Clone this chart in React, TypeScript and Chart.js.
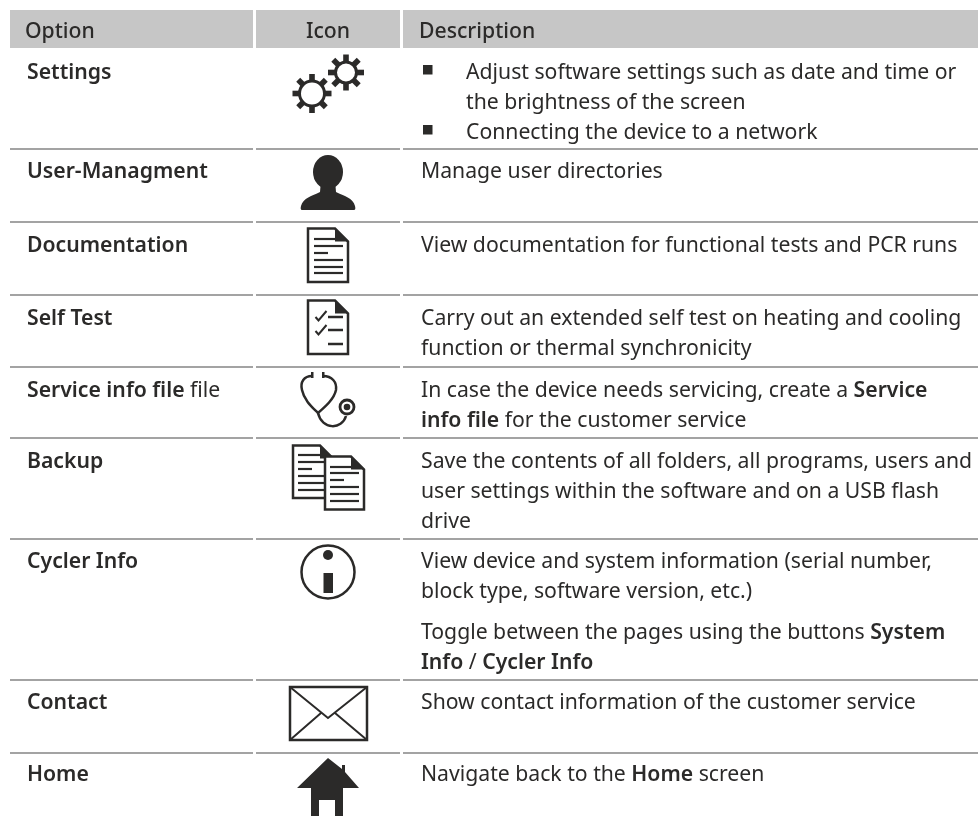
import React, { useEffect, useRef } from "react";
import { Chart, registerables } from "chart.js";

Chart.register(...registerables);

const headers = ["Option", "Icon", "Description"];
const options = [
  "**Settings**",
  "**User-Managment**",
  "**Documentation**",
  "**Self Test**",
  "**Service info file** file",
  "**Backup**",
  "**Cycler Info**",
  "**Contact**",
  "**Home**",
];
const icons = ["gears", "user", "doc", "check", "steth", "copy", "info", "mail", "home"];
const descriptions = [
  ["Adjust software settings such as date and time or", "the brightness of the screen", "Connecting the device to a network"],
  ["Manage user directories"],
  ["View documentation for functional tests and PCR runs"],
  ["Carry out an extended self test on heating and cooling", "function or thermal synchronicity"],
  ["In case the device needs servicing, create a **Service**", "**info file** for the customer service"],
  ["Save the contents of all folders, all programs, users and", "user settings within the software and on a USB flash", "drive"],
  ["View device and system information (serial number,", "block type, software version, etc.)", "", "Toggle between the pages using the buttons **System**", "**Info** / **Cycler Info**"],
  ["Show contact information of the customer service"],
  ["Navigate back to the **Home** screen"],
];
const rowRules = [149, 222, 295, 367, 438, 539, 680, 753];
const rowBaselines = [79, 178, 252, 325, 397, 468, 568, 709, 781];
const columnEdges = [[10, 253], [256, 400], [403, 978]];

const INK = "#2b2a29";
const FONT = '"Noto Sans"';
const SIZE = 21.2;

function drawRich(ctx: CanvasRenderingContext2D, s: string, x: number, y: number) {
  let cx = x;
  s.split("**").forEach((part, i) => {
    ctx.font = `${i % 2 ? 600 : 400} ${SIZE}px ${FONT}`;
    ctx.fillText(part, cx, y);
    cx += ctx.measureText(part).width;
  });
}

function gear(ctx: CanvasRenderingContext2D, cx: number, cy: number, r: number, tooth: number) {
  ctx.lineWidth = 3;
  ctx.beginPath();
  ctx.arc(cx, cy, r, 0, Math.PI * 2);
  ctx.stroke();
  for (let i = 0; i < 8; i++) {
    ctx.save();
    ctx.translate(cx, cy);
    ctx.rotate((i * Math.PI) / 4);
    ctx.fillRect(-2.8, -tooth, 5.6, tooth - r);
    ctx.restore();
  }
}

function docShape(ctx: CanvasRenderingContext2D, x0: number, y0: number, x1: number, y1: number, fold: number, lw: number) {
  ctx.lineWidth = lw;
  ctx.lineJoin = "miter";
  ctx.beginPath();
  ctx.moveTo(x0, y0);
  ctx.lineTo(x1 - fold, y0);
  ctx.lineTo(x1, y0 + fold);
  ctx.lineTo(x1, y1);
  ctx.lineTo(x0, y1);
  ctx.closePath();
  ctx.fillStyle = "#fff";
  ctx.fill();
  ctx.stroke();
  ctx.fillStyle = INK;
  ctx.beginPath();
  ctx.moveTo(x1 - fold, y0);
  ctx.lineTo(x1, y0 + fold);
  ctx.lineTo(x1 - fold, y0 + fold);
  ctx.closePath();
  ctx.fill();
}

function hline(ctx: CanvasRenderingContext2D, x0: number, x1: number, y: number, lw = 2.2) {
  ctx.lineWidth = lw;
  ctx.beginPath();
  ctx.moveTo(x0, y);
  ctx.lineTo(x1, y);
  ctx.stroke();
}

function drawIcon(ctx: CanvasRenderingContext2D, kind: string) {
  ctx.save();
  ctx.strokeStyle = INK;
  ctx.fillStyle = INK;
  ctx.lineCap = "butt";
  if (kind === "gears") {
    gear(ctx, 312, 93.5, 12.5, 19.5);
    gear(ctx, 346, 72.5, 10.5, 18);
  } else if (kind === "user") {
    ctx.beginPath();
    ctx.ellipse(328, 172, 15, 17, 0, 0, Math.PI * 2);
    ctx.fill();
    ctx.beginPath();
    ctx.moveTo(302, 210);
    ctx.quadraticCurveTo(300, 210, 301, 206);
    ctx.bezierCurveTo(303, 198, 312, 196, 320, 192);
    ctx.lineTo(321, 180);
    ctx.lineTo(335, 180);
    ctx.lineTo(336, 192);
    ctx.bezierCurveTo(344, 196, 353, 198, 355, 206);
    ctx.quadraticCurveTo(356, 210, 354, 210);
    ctx.closePath();
    ctx.fill();
  } else if (kind === "doc") {
    docShape(ctx, 308, 228.5, 348, 282, 13, 2.5);
    [[314, 335, 239], [314, 343, 246], [314, 328, 253], [314, 343, 260], [314, 343, 267], [314, 343, 273]].forEach(([a, b, y]) => hline(ctx, a, b, y));
  } else if (kind === "check") {
    docShape(ctx, 308, 300.5, 348, 354, 13, 2.5);
    ctx.lineWidth = 2;
    [311, 325].forEach((y0) => {
      ctx.beginPath();
      ctx.moveTo(315.5, y0 + 6);
      ctx.lineTo(318.5, y0 + 9.5);
      ctx.lineTo(326.5, y0);
      ctx.stroke();
    });
    [317, 330, 344].forEach((y) => hline(ctx, 328, 343, y, 2.5));
  } else if (kind === "steth") {
    ctx.lineWidth = 2.5;
    ctx.beginPath();
    ctx.moveTo(312, 376);
    ctx.bezierCurveTo(304, 376, 300, 382, 302, 390);
    ctx.bezierCurveTo(304, 400, 312, 407, 318, 413);
    ctx.bezierCurveTo(326, 406, 334, 399, 336, 390);
    ctx.bezierCurveTo(337, 382, 332, 376, 323, 376);
    ctx.stroke();
    ctx.beginPath();
    ctx.moveTo(318, 413);
    ctx.bezierCurveTo(322, 430, 342, 430, 346, 416);
    ctx.stroke();
    ctx.lineWidth = 2.8;
    ctx.beginPath();
    ctx.arc(347, 407, 7, 0, Math.PI * 2);
    ctx.stroke();
    ctx.beginPath();
    ctx.arc(347, 407, 3.3, 0, Math.PI * 2);
    ctx.fill();
    ctx.fillRect(311, 372, 2.5, 6);
    ctx.fillRect(322, 372, 2.5, 6);
  } else if (kind === "copy") {
    docShape(ctx, 293, 445.5, 333, 498, 13, 2.5);
    [[298, 320, 455], [298, 328, 462], [298, 312, 469], [298, 328, 476], [298, 328, 483], [298, 328, 490]].forEach(([a, b, y]) => hline(ctx, a, b, y));
    docShape(ctx, 325, 456.5, 364, 509.5, 13, 2.5);
    [[330, 351, 467], [330, 359, 473], [330, 344, 480], [330, 359, 487], [330, 359, 494], [330, 359, 501]].forEach(([a, b, y]) => hline(ctx, a, b, y));
  } else if (kind === "info") {
    ctx.lineWidth = 2.5;
    ctx.beginPath();
    ctx.arc(328, 572, 26.5, 0, Math.PI * 2);
    ctx.stroke();
    ctx.beginPath();
    ctx.arc(328, 555, 5, 0, Math.PI * 2);
    ctx.fill();
    ctx.fillRect(323.5, 573, 9.5, 20);
  } else if (kind === "mail") {
    ctx.lineWidth = 2.5;
    ctx.strokeRect(290, 687, 77, 53);
    ctx.lineWidth = 2;
    ctx.beginPath();
    ctx.moveTo(290, 687);
    ctx.lineTo(328, 718);
    ctx.lineTo(367, 687);
    ctx.moveTo(290, 740);
    ctx.lineTo(321, 713);
    ctx.moveTo(367, 740);
    ctx.lineTo(335, 713);
    ctx.stroke();
  } else if (kind === "home") {
    ctx.beginPath();
    ctx.moveTo(328, 758);
    ctx.lineTo(342, 769);
    ctx.lineTo(342, 765);
    ctx.lineTo(345, 765);
    ctx.lineTo(345, 772);
    ctx.lineTo(359, 788);
    ctx.lineTo(343, 788);
    ctx.lineTo(343, 816);
    ctx.lineTo(335, 816);
    ctx.lineTo(335, 800);
    ctx.lineTo(319, 800);
    ctx.lineTo(319, 816);
    ctx.lineTo(311, 816);
    ctx.lineTo(311, 788);
    ctx.lineTo(297, 788);
    ctx.closePath();
    ctx.fill();
  }
  ctx.restore();
}

const tablePlugin = {
  id: "table",
  beforeDatasetsDraw(chart: any) {
    const { ctx, scales } = chart;
    const { x, y } = scales;
    ctx.save();
    ctx.fillStyle = "#c6c6c6";
    columnEdges.forEach(([a, b]) => {
      ctx.fillRect(x.getPixelForValue(a), y.getPixelForValue(10), x.getPixelForValue(b) - x.getPixelForValue(a), y.getPixelForValue(48) - y.getPixelForValue(10));
    });
    ctx.restore();
  },
  afterDatasetsDraw(chart: any) {
    const { ctx, scales } = chart;
    const { x, y } = scales;
    ctx.save();
    ctx.fillStyle = INK;
    ctx.textBaseline = "alphabetic";
    ctx.font = `500 ${SIZE}px ${FONT}`;
    ctx.fillText(headers[0], x.getPixelForValue(25), y.getPixelForValue(37.5));
    ctx.textAlign = "center";
    ctx.fillText(headers[1], x.getPixelForValue(328), y.getPixelForValue(37.5));
    ctx.textAlign = "left";
    ctx.fillText(headers[2], x.getPixelForValue(419), y.getPixelForValue(37.5));
    options.forEach((opt, i) => {
      const base = rowBaselines[i];
      drawRich(ctx, opt, x.getPixelForValue(27), y.getPixelForValue(base));
      const lines = descriptions[i];
      const bulleted = i === 0;
      lines.forEach((line, j) => {
        let ly = base + j * 30;
        if (i === 6 && j >= 3) ly = base + 71 + (j - 3) * 30;
        if (!line) return;
        const lx = bulleted ? 466 : 421;
        drawRich(ctx, line, x.getPixelForValue(lx), y.getPixelForValue(ly));
      });
      drawIcon(ctx, icons[i]);
    });
    [65, 125].forEach((b) => ctx.fillRect(423, b, 9.5, 9.5));
    ctx.restore();
  },
};

export default function App() {
  const ref = useRef<HTMLCanvasElement>(null);
  useEffect(() => {
    document.body.style.margin = "0";
    const datasets = columnEdges.flatMap(([a, b]) =>
      rowRules.map((r) => ({
        data: [{ x: a, y: r }, { x: b, y: r }],
        showLine: true,
        pointRadius: 0,
        borderColor: "#a3a3a3",
        borderWidth: 2,
      }))
    );
    const chart = new Chart(ref.current!, {
      type: "scatter",
      data: { datasets },
      options: {
        animation: false,
        responsive: false,
        layout: { padding: 0 },
        plugins: { legend: { display: false }, tooltip: { enabled: false } },
        scales: {
          x: { type: "linear", min: 0, max: 978, display: false },
          y: { type: "linear", min: 0, max: 821, reverse: true, display: false },
        },
      } as any,
      plugins: [tablePlugin as any],
    });
    return () => chart.destroy();
  }, []);
  return <canvas ref={ref} width={978} height={821} style={{ display: "block" }} />;
}
